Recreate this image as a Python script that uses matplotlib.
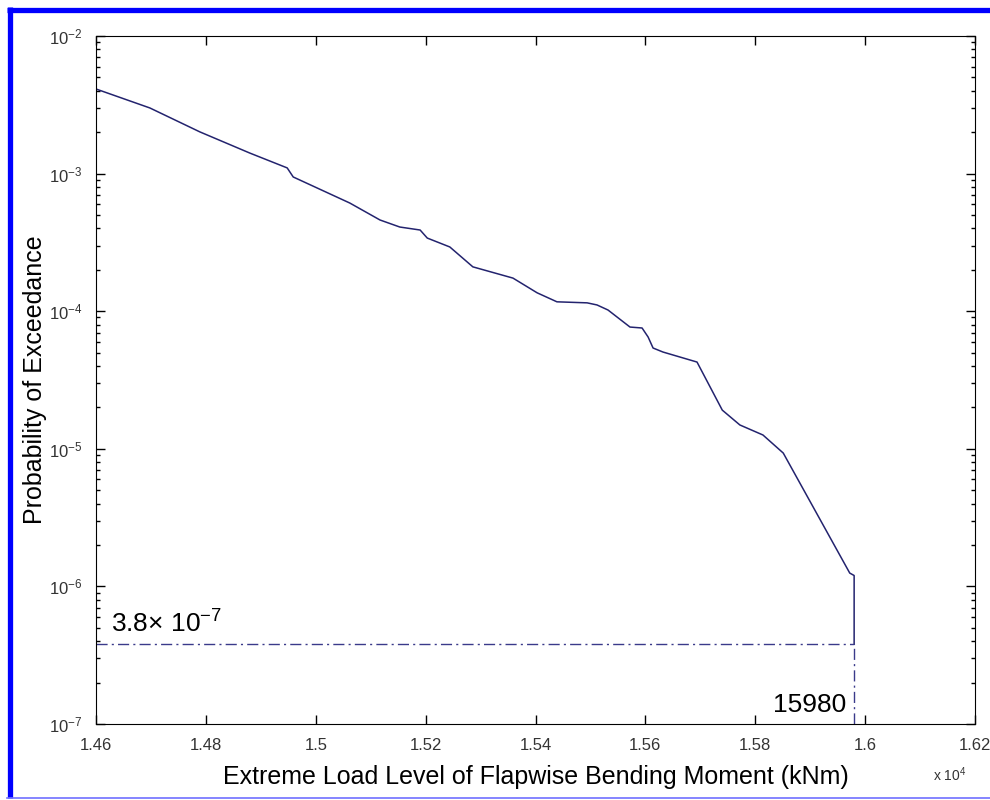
import numpy as np
import matplotlib
matplotlib.use("Agg")
import matplotlib.pyplot as plt
from matplotlib.ticker import FixedLocator, FuncFormatter, LogLocator, NullFormatter
from matplotlib.lines import Line2D

plt.rcParams["font.family"] = ["Liberation Sans", "DejaVu Sans"]
plt.rcParams["mathtext.fontset"] = "custom"
plt.rcParams["mathtext.rm"] = "Liberation Sans"
plt.rcParams["mathtext.it"] = "Liberation Sans:italic"

# exceedance curve
load = [14600, 14698, 14789, 14880, 14948, 14959, 15062, 15117, 15153, 15190,
        15203, 15244, 15286, 15359, 15403, 15439, 15494, 15512, 15532, 15572,
        15594, 15605, 15614, 15632, 15694, 15740, 15772, 15814, 15851, 15972,
        15980, 15980]
prob = [4.12e-3, 3.00e-3, 2.01e-3, 1.41e-3, 1.10e-3, 9.45e-4, 6.11e-4, 4.60e-4,
        4.09e-4, 3.89e-4, 3.40e-4, 2.93e-4, 2.10e-4, 1.74e-4, 1.36e-4, 1.17e-4,
        1.15e-4, 1.11e-4, 1.02e-4, 7.67e-5, 7.55e-5, 6.49e-5, 5.40e-5, 5.05e-5,
        4.27e-5, 1.91e-5, 1.49e-5, 1.26e-5, 9.31e-6, 1.25e-6, 1.20e-6, 3.8e-7]

target_p = 3.8e-7
target_load = 15980
x_ticks = [14600, 14800, 15000, 15200, 15400, 15600, 15800, 16000, 16200]

fig = plt.figure(figsize=(9.9, 8.0), dpi=100)
ax = fig.add_axes([96 / 990, 1 - 724 / 800, 879 / 990, 688 / 800])

ax.plot(load, prob, color="#23236e", lw=1.1)
ax.plot([14600, target_load], [target_p, target_p], color="#3a3a8a", lw=1.0,
        ls=(0, (8, 3, 1.5, 3)))
ax.plot([target_load, target_load], [1e-7, target_p], color="#3a3a8a", lw=1.0,
        ls=(0, (8, 3, 1.5, 3)))

ax.set_yscale("log")
ax.set_xlim(14600, 16200)
ax.set_ylim(1e-7, 1e-2)

ax.xaxis.set_major_locator(FixedLocator(x_ticks))
ax.xaxis.set_major_formatter(FuncFormatter(lambda v, pos: f"{v / 1e4:g}"))
ax.yaxis.set_major_locator(LogLocator(base=10, numticks=10))
ax.yaxis.set_minor_locator(LogLocator(base=10, subs=np.arange(2, 10), numticks=20))
ax.yaxis.set_minor_formatter(NullFormatter())

ax.tick_params(which="both", direction="in", top=True, right=True,
               labelsize=12, labelcolor="#333333")
ax.tick_params(which="major", length=6.5, width=1)
ax.tick_params(which="minor", length=3.2, width=1)
ax.tick_params(axis="x", pad=10)
ax.tick_params(axis="y", pad=10)

ax.set_xlabel("Extreme Load Level of Flapwise Bending Moment (kNm)", fontsize=18,
              labelpad=9)
ax.set_ylabel("Probability of Exceedance", fontsize=18)
ax.yaxis.set_label_coords(-49 / 879, 0.5)

ax.text(14628, 4.25e-7, "3.8× 10$^{-7}$", fontsize=19, ha="left", va="bottom")
ax.text(15965, 1.12e-7, "15980", fontsize=19, ha="right", va="bottom")
fig.text(933 / 990, 1 - 781 / 800, "x 10$^{4}$", fontsize=10, color="#333333",
         ha="left", va="baseline")

# blue frame: thick top and left edge, thin bottom, cut off on the right
frame_kw = dict(transform=fig.transFigure, color="#0000ff", solid_capstyle="butt")
fig.add_artist(Line2D([7 / 990, 1.0], [1 - 9.5 / 800] * 2, lw=3.8, **frame_kw))
fig.add_artist(Line2D([9.5 / 990] * 2, [1 - 7 / 800, 1 - 798 / 800], lw=3.8, **frame_kw))
fig.add_artist(Line2D([7 / 990, 1.0], [1 - 797.5 / 800] * 2, lw=1.2,
                      transform=fig.transFigure, color="#7070ff"))

fig.savefig("out.png", dpi=100)
